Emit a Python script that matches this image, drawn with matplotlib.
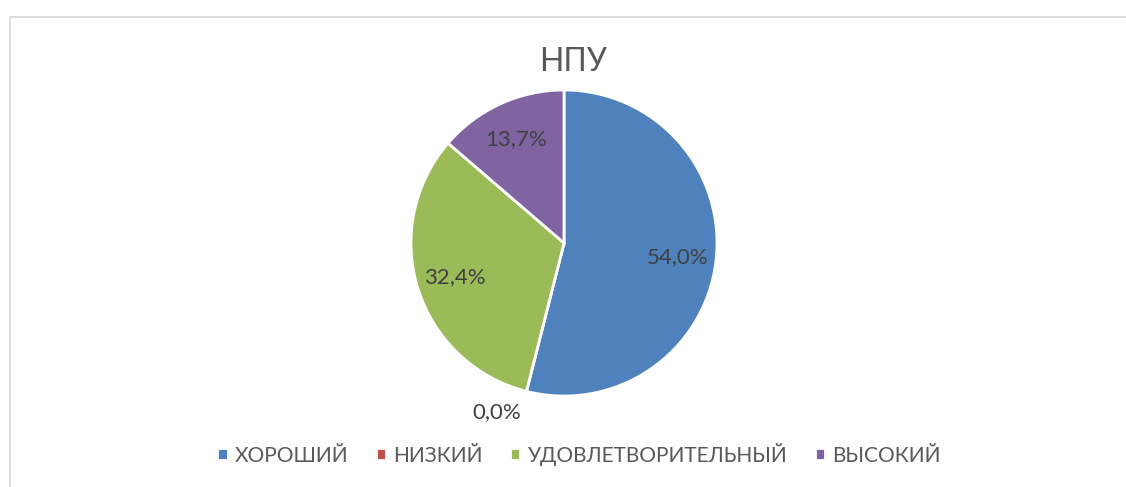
import numpy as np
import matplotlib.pyplot as plt
from matplotlib.patches import Rectangle

labels = ['ХОРОШИЙ', 'НИЗКИЙ', 'УДОВЛЕТВОРИТЕЛЬНЫЙ', 'ВЫСОКИЙ']
values = [54.0, 0.0, 32.4, 13.7]
colors = ['#4F81BD', '#C0504D', '#9BBB59', '#8064A2']
title = 'НПУ'

plt.rcParams['font.family'] = ['Lato', 'DejaVu Sans']

fig = plt.figure(figsize=(11.26, 4.87), dpi=100)

# chart area frame (only left/top edges visible in the crop)
fig.add_artist(Rectangle((10 / 1126, -1.0), 3.0, 2.0 - 17 / 487,
                         transform=fig.transFigure, fill=False,
                         edgecolor='#D9D9D9', linewidth=1.2))

cx, cy, r = 564, 243, 153
ax = fig.add_axes([(cx - r) / 1126, (487 - cy - r) / 487, 2 * r / 1126, 2 * r / 487])

wedges, _ = ax.pie(values, colors=colors, startangle=90, counterclock=False,
                   radius=1, wedgeprops=dict(edgecolor='white', linewidth=2))
ax.set_xlim(-1, 1)
ax.set_ylim(-1, 1)
ax.set_aspect('auto')

for w, v in zip(wedges, values):
    ang = np.deg2rad((w.theta1 + w.theta2) / 2)
    txt = ('%.1f%%' % v).replace('.', ',')
    if v == 0:
        ax.text(1.14 * np.cos(ang), 1.12 * np.sin(ang) - 0.02, txt, ha='right', va='center',
                fontsize=16, color='#404040')
    else:
        ax.text(0.75 * np.cos(ang), 0.75 * np.sin(ang), txt, ha='center', va='center',
                fontsize=16, color='#404040')

fig.text(573 / 1126, 1 - 62 / 487, title, ha='center', va='center', fontsize=23, color='#595959')

fig.legend(wedges, labels, loc='center', bbox_to_anchor=(579 / 1126, 1 - 454 / 487), ncol=4,
           frameon=False, fontsize=15, handlelength=0.5, handleheight=0.5,
           handletextpad=0.35, columnspacing=1.3, labelcolor='#595959')

fig.savefig('out.png', dpi=100)
